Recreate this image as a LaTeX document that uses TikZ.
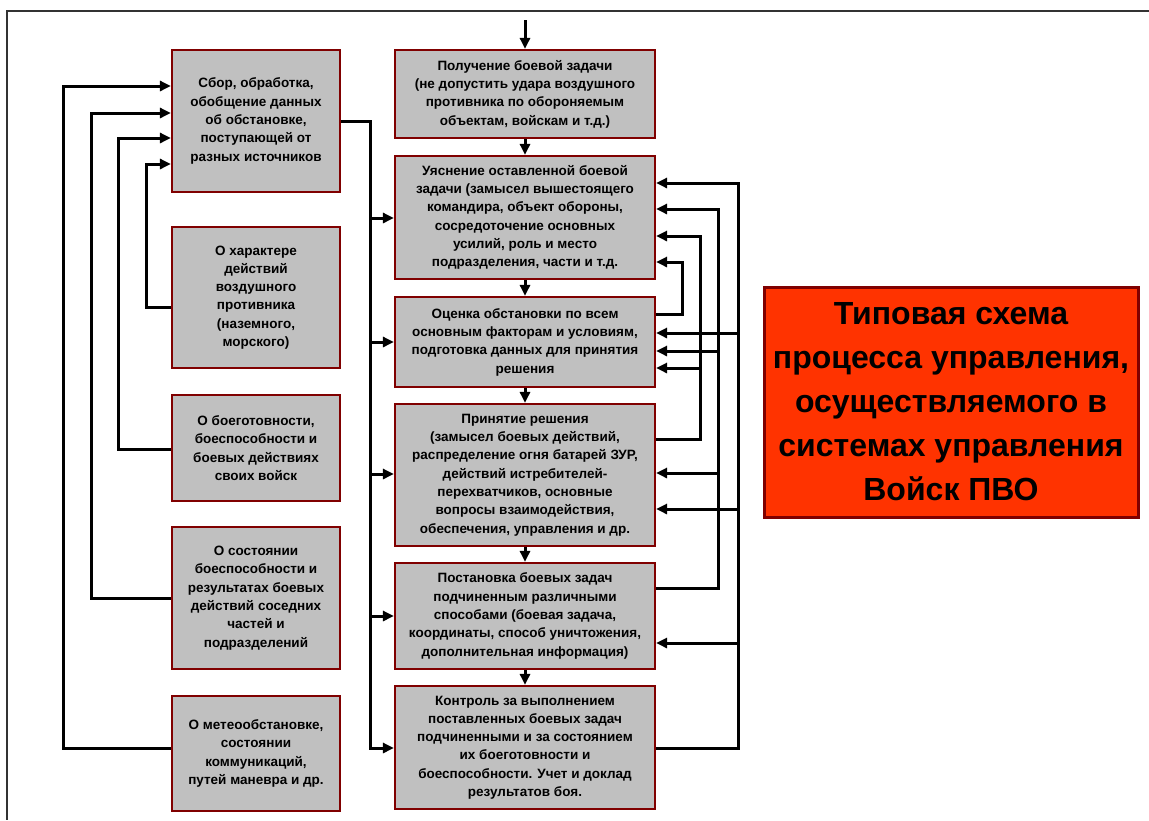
\documentclass[tikz,border=0pt]{standalone}
\usepackage{fontspec}
\setmainfont{Liberation Sans}
\usetikzlibrary{arrows.meta}
\definecolor{boxfill}{RGB}{192,192,192}
\definecolor{boxline}{RGB}{128,0,0}
\definecolor{titlefill}{RGB}{255,51,0}
\tikzset{
  bx/.style={draw=boxline, line width=2.2pt, fill=boxfill, align=center,
    inner sep=0pt, font=\bfseries\fontsize{13.5}{18.3}\selectfont, text=black},
  lbox/.style={bx, minimum width=168pt},
  mbox/.style={bx, minimum width=260pt},
  tbox/.style={draw=boxline, line width=3pt, fill=titlefill, align=center,
    inner sep=0pt, minimum width=374pt, minimum height=230pt,
    font=\bfseries\fontsize{32}{44}\selectfont},
  conn/.style={line width=3pt, black},
  arr/.style={conn, -{Triangle[length=11pt,width=10pt]}},
}
\begin{document}
\begin{tikzpicture}[x=1pt,y=-1pt]
\useasboundingbox (0,0) rectangle (1149,820);
% page frame
\draw[line width=1.2pt, black!80] (1149,11) -- (7,11) -- (7,820);

% left column
\node[lbox, minimum height=142pt] (L1) at (256,121) {Сбор, обработка,\\ обобщение данных\\ об обстановке,\\ поступающей от\\ разных источников};
\node[lbox, minimum height=141pt] (L2) at (256,297.5) {О характере\\ действий\\ воздушного\\ противника\\ (наземного,\\ морского)};
\node[lbox, minimum height=106pt] (L3) at (256,448) {О боеготовности,\\ боеспособности и\\ боевых действиях\\ своих войск};
\node[lbox, minimum height=142pt] (L4) at (256,598) {О состоянии\\ боеспособности и\\ результатах боевых\\ действий соседних\\ частей и\\ подразделений};
\node[lbox, minimum height=115pt] (L5) at (256,753.5) {О метеообстановке,\\ состоянии\\ коммуникаций,\\ путей маневра и др.};

% middle column
\node[mbox, minimum height=88pt] (M1) at (525,94) {Получение боевой задачи\\ (не допустить удара воздушного\\ противника по обороняемым\\ объектам, войскам и т.д.)};
\node[mbox, minimum height=123pt] (M2) at (525,217.5) {Уяснение оставленной боевой\\ задачи (замысел вышестоящего\\ командира, объект обороны,\\ сосредоточение основных\\ усилий, роль и место\\ подразделения, части и т.д.};
\node[mbox, minimum height=90pt] (M3) at (525,342) {Оценка обстановки по всем\\ основным факторам и условиям,\\ подготовка данных для принятия\\ решения};
\node[mbox, minimum height=142pt] (M4) at (525,475) {Принятие решения\\ (замысел боевых действий,\\ распределение огня батарей ЗУР,\\ действий истребителей-\\ перехватчиков, основные\\ вопросы взаимодействия,\\ обеспечения, управления и др.};
\node[mbox, minimum height=106pt] (M5) at (525,616) {Постановка боевых задач\\ подчиненным различными\\ способами (боевая задача,\\ координаты, способ уничтожения,\\ дополнительная информация)};
\node[mbox, minimum height=123pt] (M6) at (525,747.5) {Контроль за выполнением\\ поставленных боевых задач\\ подчиненными и за состоянием\\ их боеготовности и\\ боеспособности. Учет и доклад\\ результатов боя.};

% title
\node[tbox] (T) at (951,402) {Типовая схема\\ процесса управления,\\ осуществляемого в\\ системах управления\\ Войск ПВО};

% top input
\coordinate (in) at (525,20);
\draw[arr] (in) -- (M1.north);
% vertical flow
\draw[arr] (M1.south) -- (M2.north);
\draw[arr] (M2.south) -- (M3.north);
\draw[arr] (M3.south) -- (M4.north);
\draw[arr] (M4.south) -- (M5.north);
\draw[arr] (M5.south) -- (M6.north);

% sources into L1
\draw[arr] (L2.west |- 0,307) -| (146,164) -- (L1.west |- 0,164);
\draw[arr] (L3.west |- 0,449) -| (118,138) -- (L1.west |- 0,138);
\draw[arr] (L4.west |- 0,598) -| (91,113) -- (L1.west |- 0,113);
\draw[arr] (L5.west |- 0,748) -| (63,86) -- (L1.west |- 0,86);

% L1 bus into middle column
\draw[arr] (L1.east |- 0,121) -| (370,218) -- (M2.west |- 0,218);
\draw[arr] (L1.east |- 0,121) -| (370,342) -- (M3.west |- 0,342);
\draw[arr] (L1.east |- 0,121) -| (370,474) -- (M4.west |- 0,474);
\draw[arr] (L1.east |- 0,121) -| (370,616) -- (M5.west |- 0,616);
\draw[arr] (L1.east |- 0,121) -| (370,748) -- (M6.west |- 0,748);

% feedback on the right
\draw[arr] (M3.east |- 0,314) -| (682,262) -- (M2.east |- 0,262);
\draw[arr] (M4.east |- 0,439) -| (700,236) -- (M2.east |- 0,236);
\draw[arr] (M4.east |- 0,439) -| (700,368) -- (M3.east |- 0,368);
\draw[arr] (M5.east |- 0,588) -| (718,209) -- (M2.east |- 0,209);
\draw[arr] (M5.east |- 0,588) -| (718,351) -- (M3.east |- 0,351);
\draw[arr] (M5.east |- 0,588) -| (718,473) -- (M4.east |- 0,473);
\draw[arr] (M6.east |- 0,748) -| (738,183) -- (M2.east |- 0,183);
\draw[arr] (M6.east |- 0,748) -| (738,333) -- (M3.east |- 0,333);
\draw[arr] (M6.east |- 0,748) -| (738,509) -- (M4.east |- 0,509);
\draw[arr] (M6.east |- 0,748) -| (738,643) -- (M5.east |- 0,643);
\end{tikzpicture}
\end{document}
